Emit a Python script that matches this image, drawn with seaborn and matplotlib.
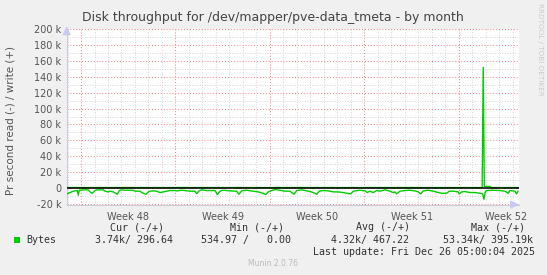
import numpy as np
import pandas as pd
import matplotlib
matplotlib.use("Agg")
import matplotlib.pyplot as plt
from matplotlib.patches import Rectangle
import seaborn as sns

# ---- data (time in days relative to Monday Dec 22 00:00, values in k bytes/s) ----
read_t = [-29.06, -28.81, -28.57, -28.27, -28.20, -28.13, -27.83, -27.46, -27.33, -27.16,
          -26.96, -26.84, -26.35, -26.22, -25.98, -25.85, -25.61, -25.31, -25.16, -24.99,
          -24.74, -24.13, -24.00, -23.63, -23.50, -23.19, -23.01, -22.89, -22.64, -22.39,
          -22.15, -21.90, -21.65, -21.41, -21.04, -20.91, -20.54, -20.30, -19.93, -19.56,
          -19.43, -19.24, -19.06, -18.69, -18.07, -17.90, -17.70, -17.46, -16.96, -16.47,
          -16.30, -16.10, -15.73, -15.24, -14.87, -14.50, -14.32, -14.13, -13.87, -13.63,
          -13.26, -12.89, -12.52, -12.22, -12.02, -11.65, -11.28, -10.91, -10.67, -10.54,
          -10.35, -10.05, -9.68, -9.31, -8.94, -8.57, -8.20, -8.02, -7.83, -7.33,
          -6.96, -6.79, -6.59, -6.35, -6.10, -5.85, -5.48, -5.11, -4.87, -4.74,
          -4.61, -4.37, -4.00, -3.63, -3.26, -3.01, -2.84, -2.64, -2.27, -1.90,
          -1.53, -1.28, -0.91, -0.72, -0.42, -0.05, 0.02, 0.20, 0.44, 0.81,
          1.19, 1.56, 1.76, 1.85, 1.95, 2.05, 2.54, 3.04, 3.41, 3.65,
          3.78, 4.15, 4.27, 4.39]
read_k = [-7.6, -5.9, -4.2, -3.4, -9.3, -3.0, -2.5, -2.5, -5.1, -6.8,
          -3.4, -2.5, -2.5, -4.2, -5.1, -4.2, -5.1, -8.1, -3.4, -2.5,
          -3.0, -3.0, -4.2, -4.2, -5.9, -8.1, -5.1, -4.2, -3.8, -4.2,
          -5.9, -5.1, -4.2, -3.4, -3.4, -3.8, -3.0, -3.4, -4.2, -4.2,
          -7.2, -3.8, -2.5, -3.4, -3.4, -8.5, -4.2, -3.0, -3.8, -4.2,
          -8.1, -3.8, -3.0, -4.2, -5.1, -6.8, -8.5, -5.1, -3.4, -2.1,
          -3.0, -4.2, -4.2, -8.1, -3.4, -2.5, -3.8, -5.1, -6.8, -8.1,
          -4.2, -3.4, -3.8, -5.1, -5.1, -5.9, -7.2, -7.6, -4.2, -3.0,
          -3.8, -5.9, -4.2, -5.9, -3.4, -4.2, -2.5, -4.2, -5.9, -5.1,
          -7.6, -4.2, -3.4, -3.0, -3.8, -5.1, -7.6, -3.8, -3.0, -4.2,
          -5.9, -6.8, -6.8, -4.2, -4.2, -5.1, -7.6, -5.1, -4.7, -5.9,
          -5.9, -6.8, -7.6, -14.4, -5.1, -3.4, -3.0, -3.4, -4.2, -6.8,
          -3.4, -4.2, -7.6, -4.2]
write_t = [-29.06, 1.72, 1.80, 1.88, 2.30, 2.38, 4.39]
write_k = [0.4, 0.4, 152.0, 1.8, 1.8, 0.4, 0.4]

week_labels = ["Week 48", "Week 49", "Week 50", "Week 51", "Week 52"]
week_centers = [-24.5, -17.5, -10.5, -3.5, 3.5]
week_starts = [-28, -21, -14, -7, 0]
ytick_vals = [-20, 0, 20, 40, 60, 80, 100, 120, 140, 160, 180, 200]
ytick_labels = ["-20 k", "0", "20 k", "40 k", "60 k", "80 k", "100 k", "120 k",
                "140 k", "160 k", "180 k", "200 k"]

title = "Disk throughput for /dev/mapper/pve-data_tmeta - by month"
ylabel = "Pr second read (-) / write (+)"
legend_name = "Bytes"
legend_headers = ["Cur (-/+)", "Min (-/+)", "Avg (-/+)", "Max (-/+)"]
legend_values = ["3.74k/ 296.64", "534.97 /   0.00", "4.32k/ 467.22", "53.34k/ 395.19k"]
last_update = "Last update: Fri Dec 26 05:00:04 2025"
footer = "Munin 2.0.76"
side_text = "RRDTOOL / TOBI OETIKER"

# ---- figure ----
sns.set_style("white")
plt.rcParams['font.family'] = ['DejaVu Sans']
W, H = 547, 275
fig = plt.figure(figsize=(W / 100, H / 100), dpi=100)
fig.patch.set_facecolor("#F0F0F0")

def fx(px):
    return px / W

def fy(py):
    return 1 - py / H

left_px, right_px, top_px, bot_px = 66.7, 519.0, 29.0, 204.5
ax = fig.add_axes([fx(left_px), fy(bot_px), fx(right_px - left_px), (bot_px - top_px) / H])
ax.set_facecolor("white")

df_read = pd.DataFrame({"t": read_t, "v": read_k})
df_write = pd.DataFrame({"t": write_t, "v": write_k})
GREEN = "#00CC00"
sns.lineplot(data=df_read, x="t", y="v", ax=ax, color=GREEN, lw=1.0, sort=False,
             estimator=None, zorder=4)
sns.lineplot(data=df_write, x="t", y="v", ax=ax, color=GREEN, lw=1.0, sort=False,
             estimator=None, zorder=4)
ax.axhline(0, color="black", lw=1.1, zorder=5)

ax.set_xlim(-29.06, 4.45)
ax.set_ylim(-21, 200.5)

# grids
dot = (0, (1, 2))
ax.set_yticks(ytick_vals)
ax.set_yticklabels(ytick_labels)
ax.set_yticks(np.arange(-20, 201, 10), minor=True)
ax.set_xticks(week_starts)
ax.set_xticklabels([""] * len(week_starts))
ax.set_xticks(np.arange(-29, 5, 1), minor=True)
ax.grid(which="minor", color="#C8C8C8", lw=0.6, ls=dot, zorder=1)
ax.grid(which="major", color="#F08080", lw=0.7, ls=dot, zorder=2)
ax.set_axisbelow(True)

ax.tick_params(axis="y", which="major", length=2.5, width=0.6, color="#AAAAAA",
               labelsize=7, labelcolor="#555555", pad=1.5)
ax.tick_params(axis="y", which="minor", length=0)
ax.tick_params(axis="x", which="both", length=0)
ax.set_xlabel("")
ax.set_ylabel("")
for w, c in zip(week_labels, week_centers):
    ax.text(c, -0.045, w, transform=ax.get_xaxis_transform(), ha="center", va="top",
            fontsize=7, color="#555555")

for s in ["top", "right"]:
    ax.spines[s].set_visible(False)
for s in ["left", "bottom"]:
    ax.spines[s].set_color("#CCCCDD")
    ax.spines[s].set_linewidth(0.8)

# axis arrows
ax.annotate("", xy=(1.006, 0), xytext=(0.99, 0), xycoords="axes fraction",
            arrowprops=dict(arrowstyle="-|>,head_length=0.5,head_width=0.25",
                            color="#C8C8F0", lw=0.8), annotation_clip=False)
ax.annotate("", xy=(0, 1.03), xytext=(0, 0.99), xycoords="axes fraction",
            arrowprops=dict(arrowstyle="-|>,head_length=0.5,head_width=0.25",
                            color="#C8C8F0", lw=0.8), annotation_clip=False)

# texts
fig.text(fx(273), fy(18), title, ha="center", va="center", fontsize=9, color="#444444")
fig.text(fx(11), fy(121), ylabel, ha="center", va="center", rotation=90,
         fontsize=7.5, color="#555555")
fig.text(fx(540), fy(3), side_text, ha="center", va="top", rotation=270,
         fontsize=5.2, color="#CCCCCC")

mono = "DejaVu Sans Mono"
fig.patches.append(Rectangle((fx(14), fy(243.3)), fx(6), 6 / H, transform=fig.transFigure,
                             facecolor=GREEN, edgecolor="none", figure=fig))
fig.text(fx(26.5), fy(240), legend_name, ha="left", va="center", fontsize=7.2,
         family=mono, color="#333333")
header_right = [164, 284, 410, 525]
value_right = [173.3, 291, 409.3, 532.7]
for h, hx in zip(legend_headers, header_right):
    fig.text(fx(hx), fy(227.5), h, ha="right", va="center", fontsize=7.2, family=mono,
             color="#333333")
for v, vx in zip(legend_values, value_right):
    fig.text(fx(vx), fy(240), v, ha="right", va="center", fontsize=7.2, family=mono,
             color="#333333")
fig.text(fx(535), fy(252), last_update, ha="right", va="center", fontsize=7.2,
         family=mono, color="#333333")
fig.text(fx(273), fy(264), footer, ha="center", va="center", fontsize=5.5,
         color="#BBBBBB")

fig.savefig("out.png", dpi=100, facecolor=fig.get_facecolor())
